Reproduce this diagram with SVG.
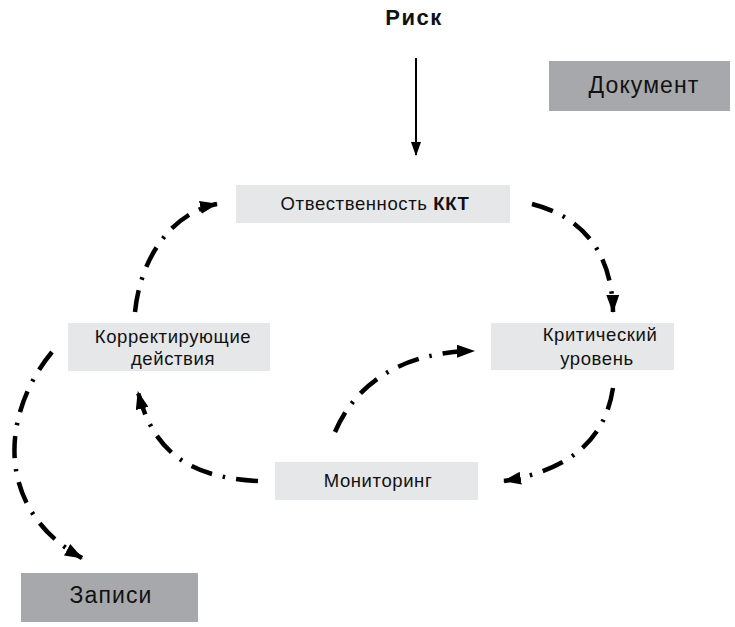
<svg xmlns="http://www.w3.org/2000/svg" width="735" height="627" viewBox="0 0 735 627">
  <style>
    text { font-family: "Liberation Sans", Arial, sans-serif; fill: #111; text-anchor: middle; }
    .box { fill: #e6e7e8; }
    .dark { fill: #a7a8ab; }
    .lbl { font-size: 18.5px; letter-spacing: 0.6px; }
    .big { font-size: 23px; letter-spacing: 1.1px; }
    .flow { fill: none; stroke: #000; stroke-width: 4.5; stroke-dasharray: 22 11 2.5 11; marker-end: url(#head); }
  </style>
  <defs>
    <marker id="head" markerUnits="userSpaceOnUse" markerWidth="18" markerHeight="13" refX="17" refY="6.5" orient="auto">
      <path d="M0,0 L18,6.5 L0,13 z" fill="#000"/>
    </marker>
    <marker id="thin" markerUnits="userSpaceOnUse" markerWidth="10" markerHeight="14" refX="5" refY="13" orient="0">
      <path d="M0,0 L10,0 L5,14 z" fill="#000"/>
    </marker>
  </defs>

  <g id="risk">
    <text x="414" y="25" font-size="22" font-weight="bold" letter-spacing="1.5">Риск</text>
  </g>

  <g id="document">
    <rect class="dark" x="549" y="61" width="181" height="50"/>
    <text class="big" x="644" y="93">Документ</text>
  </g>

  <g id="responsibility">
    <rect class="box" x="236" y="185" width="274" height="38"/>
    <text class="lbl" x="375" y="210">Отвественность <tspan font-weight="bold">ККТ</tspan></text>
  </g>

  <g id="corrective">
    <rect class="box" x="68" y="323" width="202" height="48"/>
    <text class="lbl" x="173" y="343">Корректирующие</text>
    <text class="lbl" x="173" y="365">действия</text>
  </g>

  <g id="critical">
    <rect class="box" x="491" y="323" width="183" height="47"/>
    <text class="lbl" x="600" y="341">Критический</text>
    <text class="lbl" x="597" y="365">уровень</text>
  </g>

  <g id="monitoring">
    <rect class="box" x="275" y="462" width="203" height="38"/>
    <text class="lbl" x="378" y="487">Мониторинг</text>
  </g>

  <g id="records">
    <rect class="dark" x="21" y="573" width="177" height="49"/>
    <text class="big" x="111" y="603">Записи</text>
  </g>

  <g id="connectors">
    <line x1="416" y1="58" x2="416" y2="155" stroke="#000" stroke-width="2" marker-end="url(#thin)"/>
    <path class="flow" d="M135,312 C140,262 168,214 217,204"/>
    <path class="flow" d="M532,204 C575,215 612,245 613,312"/>
    <path class="flow" d="M613,388 C605,440 570,470 504,481"/>
    <path class="flow" d="M335,432 C355,385 400,352 474,351"/>
    <path class="flow" d="M258,481 C200,478 155,460 138,392"/>
    <path class="flow" d="M52,352 C0,415 -5,510 82,558"/>
  </g>
</svg>
